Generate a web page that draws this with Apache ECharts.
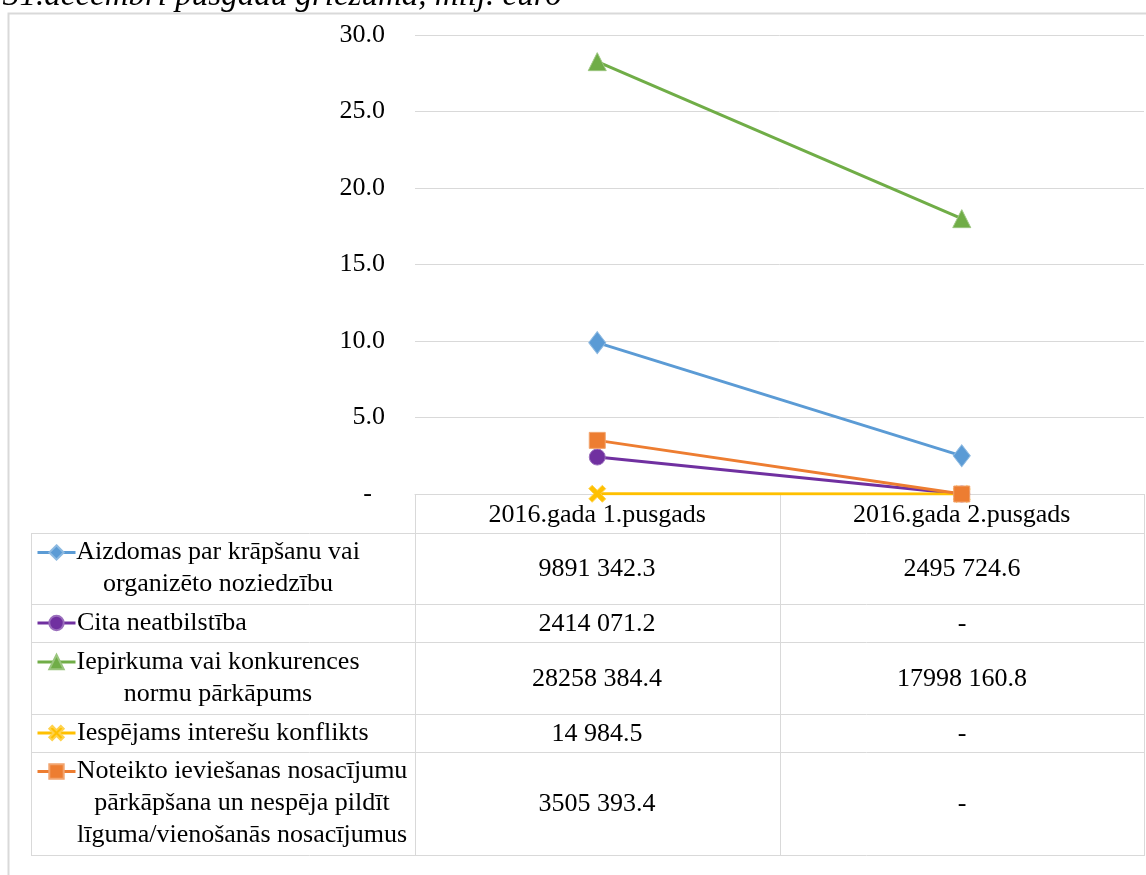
<!DOCTYPE html>
<html>
<head>
<meta charset="utf-8">
<script src="https://cdn.jsdelivr.net/npm/echarts@6/dist/echarts.min.js"></script>
<style>
html,body{margin:0;padding:0;background:#fff;}
#chart{width:1146px;height:875px;}
</style>
</head>
<body>
<div id="chart"></div>
<script>
// ---- data ----
const categories = ['2016.gada 1.pusgads', '2016.gada 2.pusgads'];
const seriesNames = [
  'Aizdomas par krāpšanu vai organizēto noziedzību',
  'Cita neatbilstība',
  'Iepirkuma vai konkurences normu pārkāpums',
  'Iespējams interešu konflikts',
  'Noteikto ieviešanas nosacījumu pārkāpšana un nespēja pildīt līguma/vienošanās nosacījumus'
];
const legendLines = [
  ['Aizdomas par krāpšanu vai', 'organizēto noziedzību'],
  ['Cita neatbilstība'],
  ['Iepirkuma vai konkurences', 'normu pārkāpums'],
  ['Iespējams interešu konflikts'],
  ['Noteikto ieviešanas nosacījumu', 'pārkāpšana un nespēja pildīt', 'līguma/vienošanās nosacījumus']
];
const aizdomas  = [9.8913423, 2.4957246];
const cita      = [2.4140712, 0];
const iepirkuma = [28.2583844, 17.9981608];
const iespejams = [0.0149845, 0];
const noteikto  = [3.5053934, 0];
const tableCol1 = ['9891 342.3', '2414 071.2', '28258 384.4', '14 984.5', '3505 393.4'];
const tableCol2 = ['2495 724.6', '-', '17998 160.8', '-', '-'];
const titleText = '31.decembrī pusgadu griezumā, milj. euro';

// ---- styling / layout ----
const colors = ['#5b9bd5', '#7030a0', '#70ad47', '#ffc000', '#ed7d31'];
const symbols = ['diamond', 'circle', 'triangle',
  'path://M2,0 L5,3 L8,0 L10,2 L7,5 L10,8 L8,10 L5,7 L2,10 L0,8 L3,5 L0,2 Z', 'rect'];
const symbolSizes = [[17, 22], 16, [18, 18], 17, 16];
const seriesData = [aizdomas, cita, iepirkuma, iespejams, noteikto];

const FONT = '"Liberation Serif", "Times New Roman", serif';
const gridC = '#d9d9d9';
const L = 415, R = 1144, TABLE_L = 31;
const rowLines = [533, 604, 642, 714, 752, 855];
const colCenters = [597, 962];
const legendTextX = [218, 77, 218, 77, 242];
const legendAlign = ['center', 'left', 'center', 'left', 'center'];
const LINE_H = 32;
const FS = 26;

const graphic = [];
function hline(y, x1, x2) {
  graphic.push({type: 'line', silent: true, shape: {x1: x1, y1: y + 0.5, x2: x2, y2: y + 0.5},
    style: {stroke: gridC, lineWidth: 1}});
}
function vline(x, y1, y2) {
  graphic.push({type: 'line', silent: true, shape: {x1: x + 0.5, y1: y1, x2: x + 0.5, y2: y2},
    style: {stroke: gridC, lineWidth: 1}});
}
function text(str, x, y, align) {
  graphic.push({type: 'text', silent: true, x: x, y: y,
    style: {text: str, font: FS + 'px ' + FONT, fill: '#000', align: align, verticalAlign: 'middle'}});
}
// outer frame
graphic.push({type: 'rect', silent: true, shape: {x: 8.5, y: 13.5, width: 1150, height: 900},
  style: {fill: 'none', stroke: gridC, lineWidth: 2}});
// title (partially cut at top)
graphic.push({type: 'text', silent: true, x: 3, y: -4,
  style: {text: titleText, font: 'italic 33px ' + FONT, fill: '#000', align: 'left', verticalAlign: 'middle'}});
// table lines
rowLines.forEach(function (y) { hline(y, TABLE_L, R + 1); });
vline(TABLE_L, rowLines[0], rowLines[5] + 1);
vline(L, 494, rowLines[5] + 1);
vline(780, 494, rowLines[5] + 1);
vline(R, 494, rowLines[5] + 1);

const legends = [];
for (let i = 0; i < 5; i++) {
  const top = rowLines[i], bot = rowLines[i + 1];
  const mid = (top + bot) / 2;
  const lines = legendLines[i];
  const n = lines.length;
  const firstY = mid - (n - 1) * LINE_H / 2;
  lines.forEach(function (ln, k) {
    text(ln, legendTextX[i], firstY + k * LINE_H, legendAlign[i]);
  });
  text(tableCol1[i], colCenters[0], mid + 1, 'center');
  text(tableCol2[i], colCenters[1], mid + 1, 'center');
  legends.push({
    data: [seriesNames[i]], left: 36, top: firstY - 9, padding: 0,
    itemWidth: 38, itemHeight: 18, selectedMode: false,
    lineStyle: {width: 3},
    formatter: function () { return ''; }, textStyle: {fontSize: 1}
  });
}

const series = seriesData.map(function (d, i) {
  return {
    name: seriesNames[i], type: 'line', data: d,
    symbol: symbols[i], symbolSize: symbolSizes[i], showSymbol: true,
    lineStyle: {color: colors[i], width: 3},
    itemStyle: {color: colors[i], borderColor: echarts.color.lift(colors[i], 0.3), borderWidth: 1},
    emphasis: {disabled: true}, animation: false, z: 2 + i
  };
});

const chart = echarts.init(document.getElementById('chart'), null, {renderer: 'canvas'});
chart.setOption({
  animation: false,
  color: colors,
  legend: legends,
  grid: {left: L, right: 1146 - R, top: 35, bottom: 875 - 494, containLabel: false},
  xAxis: {
    type: 'category', data: categories, boundaryGap: true,
    axisLine: {show: true, lineStyle: {color: gridC, width: 1}},
    axisTick: {show: false},
    axisLabel: {color: '#000', fontFamily: FONT, fontSize: 26, margin: 8}
  },
  yAxis: {
    type: 'value', min: 0, max: 30, interval: 5,
    axisLine: {show: false}, axisTick: {show: false},
    splitLine: {lineStyle: {color: gridC, width: 1}},
    axisLabel: {
      color: '#000', fontFamily: FONT, fontSize: 26, margin: 30,
      formatter: function (v) { return v === 0 ? '-  ' : v.toFixed(1); }
    }
  },
  graphic: graphic,
  series: series
});
</script>
</body>
</html>
